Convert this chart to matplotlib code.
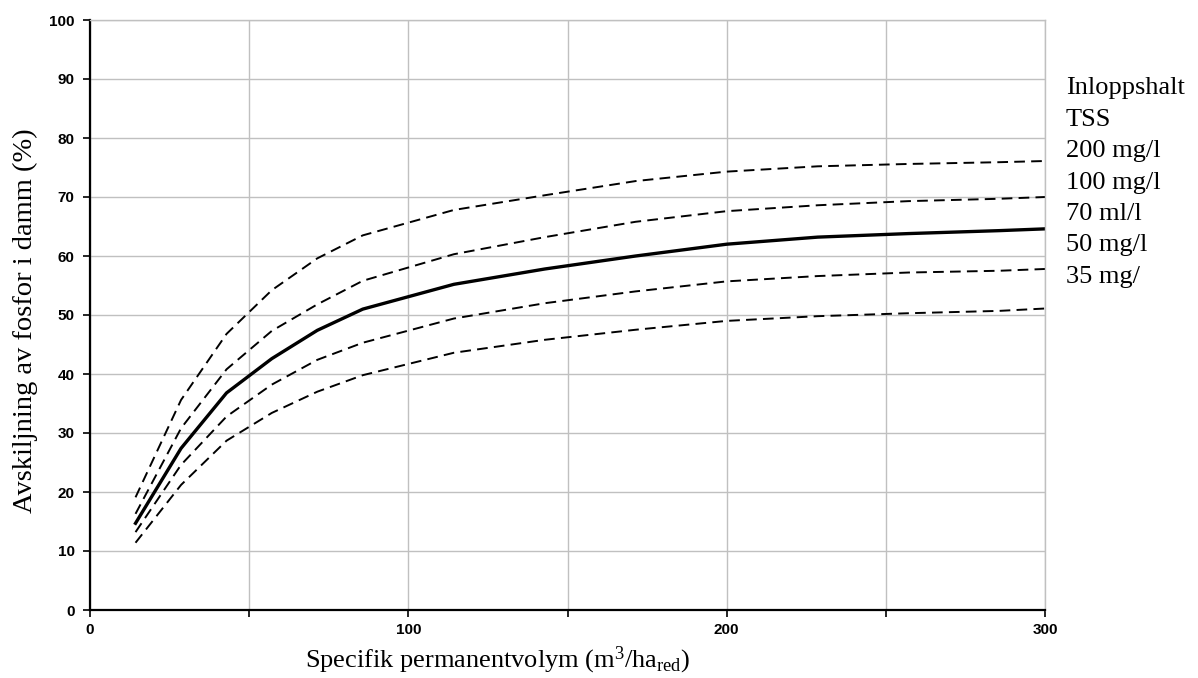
import matplotlib
matplotlib.use("Agg")
import matplotlib.pyplot as plt
from matplotlib.ticker import MultipleLocator

matplotlib.rcParams.update({
    "font.family": "Liberation Sans",
    "font.weight": "bold",
    "mathtext.fontset": "custom",
    "mathtext.rm": "Liberation Serif:weight=normal",
    "mathtext.it": "Liberation Serif:italic:weight=normal",
})

# specific permanent volume, m3/ha_red
volym = [14.3, 28.6, 42.9, 57.1, 71.4, 85.7, 114.3, 142.9, 171.4, 200, 228.6, 257.1, 285.7, 300]

# phosphorus removal (%) for different inlet TSS concentrations
tss_200 = [19.1, 35.6, 46.8, 54.2, 59.6, 63.5, 67.8, 70.3, 72.7, 74.3, 75.2, 75.6, 75.9, 76.1]
tss_100 = [16.3, 30.8, 40.8, 47.3, 51.8, 55.8, 60.3, 63.2, 65.8, 67.6, 68.6, 69.3, 69.7, 70.0]
tss_70 = [14.7, 27.4, 36.8, 42.6, 47.4, 51.0, 55.2, 57.8, 60.0, 62.0, 63.2, 63.8, 64.3, 64.6]
tss_50 = [13.2, 24.6, 32.8, 38.2, 42.4, 45.3, 49.4, 52.0, 54.0, 55.7, 56.6, 57.2, 57.5, 57.8]
tss_35 = [11.4, 21.2, 28.7, 33.4, 37.0, 39.8, 43.6, 45.8, 47.5, 49.0, 49.8, 50.3, 50.7, 51.1]

legend_lines = ["Inloppshalt", "TSS", "200 mg/l", "100 mg/l", "70 ml/l", "50 mg/l", "35 mg/"]

W, H = 1198, 678
fig = plt.figure(figsize=(W / 100, H / 100), dpi=100)
ax = fig.add_axes([90 / W, 68 / H, 955 / W, 590 / H])

dash = (0, (5.5, 3.2))
for serie in (tss_200, tss_100, tss_50, tss_35):
    ax.plot(volym, serie, color="black", lw=1.4, ls=dash)
ax.plot(volym, tss_70, color="black", lw=2.4)

ax.set_xlim(0, 300)
ax.set_ylim(0, 100)
ax.xaxis.set_major_locator(MultipleLocator(100))
ax.xaxis.set_minor_locator(MultipleLocator(50))
ax.yaxis.set_major_locator(MultipleLocator(10))
ax.grid(which="both", color="#c0c0c0", lw=1)
ax.set_axisbelow(True)

for side in ("top", "right"):
    ax.spines[side].set_color("#c0c0c0")
    ax.spines[side].set_linewidth(1)
for side in ("left", "bottom"):
    ax.spines[side].set_linewidth(1.6)

ax.tick_params(which="both", direction="out", length=5, width=1.2,
               color="black", labelsize=11)
ax.tick_params(axis="x", pad=4)
ax.tick_params(axis="y", pad=6)

serif = dict(family="Liberation Serif", weight="normal")
ax.set_xlabel("Specifik permanentvolym (m$^{3}$/ha$_{\\mathrm{red}}$)", fontsize=19, **serif)
ax.xaxis.set_label_coords(0.427, -0.058)
ax.set_ylabel("Avskiljning av fosfor i damm (%)", fontsize=20.5, **serif)
ax.yaxis.set_label_coords(-0.054, 0.49)

# legend text beside the plot, one line at a time
for i, line in enumerate(legend_lines):
    fig.text(1066 / W, 1 - (94 + 31.5 * i) / H, line, fontsize=19,
             va="baseline", ha="left", **serif)

fig.savefig("out.png", dpi=100)
